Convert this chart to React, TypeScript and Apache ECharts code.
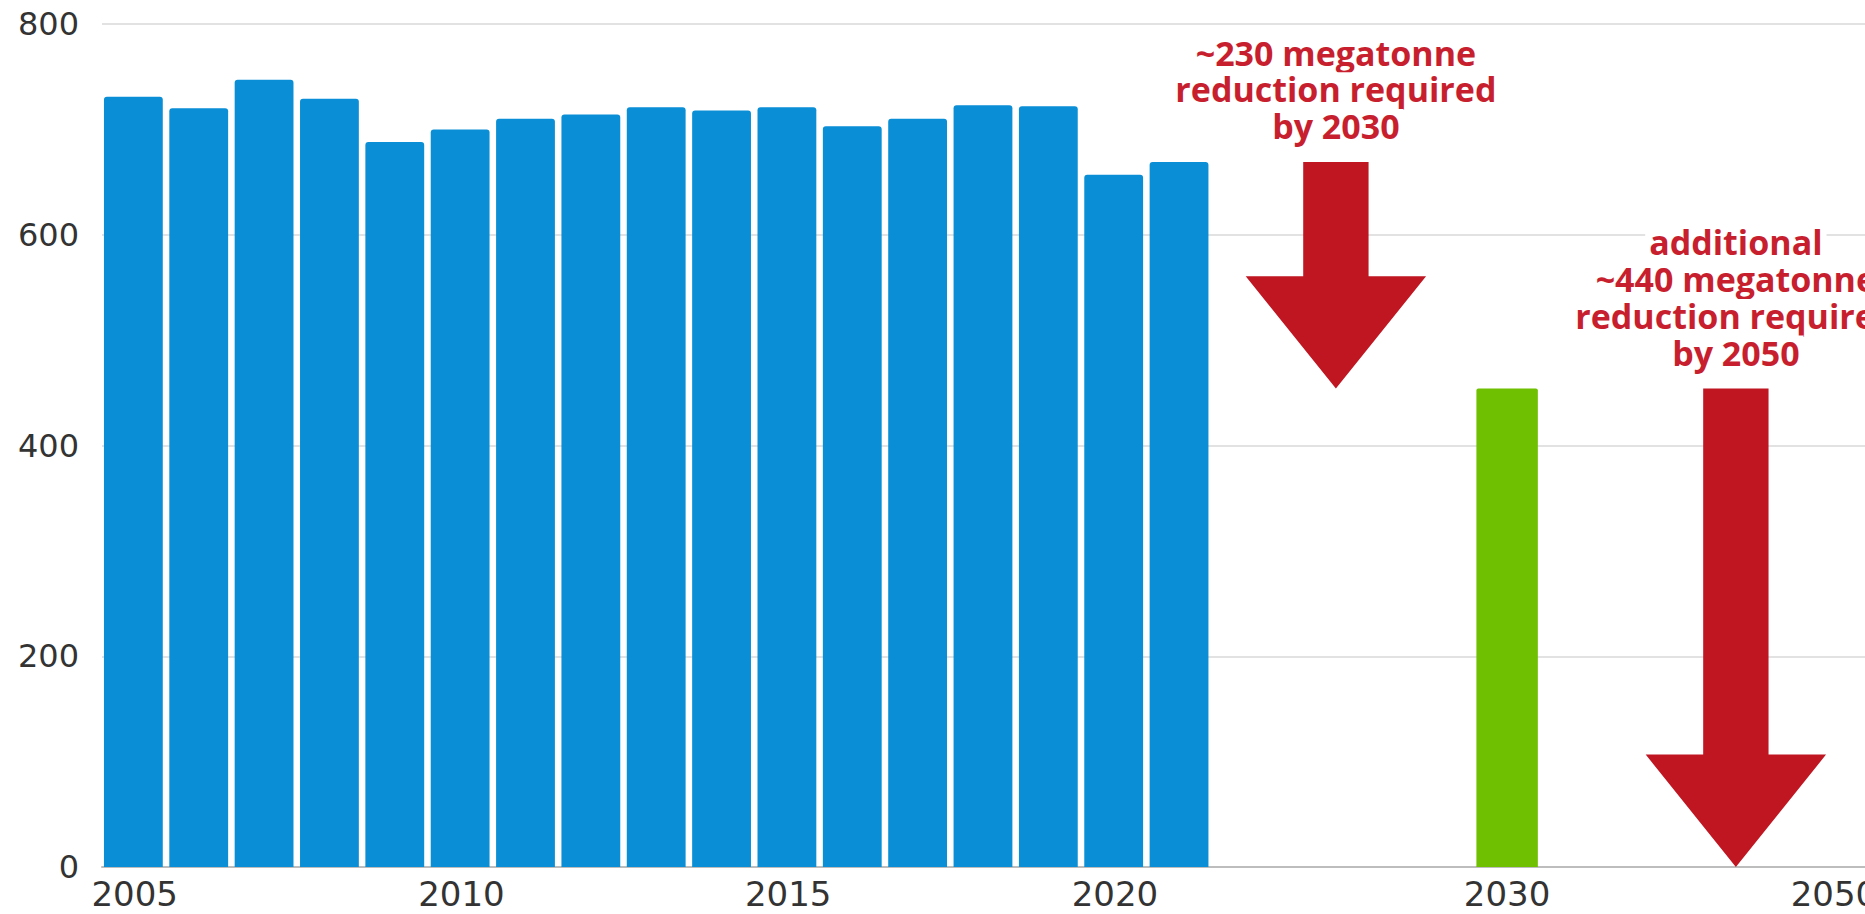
import React, { useEffect, useRef } from 'react';
import * as echarts from 'echarts';

// ---- data ----
const categories = [
  '2005', '2006', '2007', '2008', '2009', '2010', '2011', '2012', '2013',
  '2014', '2015', '2016', '2017', '2018', '2019', '2020', '2021',
  'gap1', 'gap2', 'gap3', 'gap4', '2030', 'gap5', 'gap6', 'gap7', 'gap8', '2050',
];
const tickLabels = ['2005', '2010', '2015', '2020', '2030', '2050'];
const historicValues = [731, 720, 747, 729, 688, 700, 710, 714, 721, 718, 721, 703, 710, 723, 722, 657, 669];
const targetYear = '2030';
const targetValue = 454;
const yTicks = [0, 200, 400, 600, 800];

const arrowCategory = ['gap2', 'gap7'];
const arrowOffset = [0.38, 0.5];
const arrowFrom = [669, 454];
const arrowTo = [454, 0];
const arrowLabels = [
  '~230 megatonne\nreduction required\nby 2030',
  'additional\n~440 megatonne\nreduction required\nby 2050',
];

const BLUE = '#0a8fd6';
const GREEN = '#6fc000';
const ARROW_RED = '#bf1622';
const TEXT_RED = '#c81f2f';

export default function App() {
  const ref = useRef<HTMLDivElement>(null);

  useEffect(() => {
    if (!ref.current) return;
    const chart = echarts.init(ref.current, undefined, { renderer: 'svg' });

    const blueData = categories.map((_, i) => (i < historicValues.length ? historicValues[i] : null));
    const greenData = categories.map((c) => (c === targetYear ? targetValue : null));
    const arrowData = arrowCategory.map((c, i) => [categories.indexOf(c), arrowFrom[i], arrowTo[i], arrowOffset[i]]);

    chart.setOption({
      animation: false,
      backgroundColor: '#ffffff',
      grid: { left: 102, right: 5, top: 24, bottom: 47, containLabel: false },
      xAxis: {
        type: 'category',
        data: categories,
        boundaryGap: true,
        axisTick: { show: false },
        axisLine: { show: true, lineStyle: { color: '#bdbdbd', width: 2 } },
        axisLabel: {
          interval: 0,
          margin: 10,
          color: '#333333',
          fontSize: 34,
          fontFamily: 'DejaVu Sans',
          formatter: (v: string) => (tickLabels.includes(v) ? v : ''),
        },
        splitLine: { show: false },
      },
      yAxis: {
        type: 'value',
        min: yTicks[0],
        max: yTicks[yTicks.length - 1],
        interval: yTicks[1] - yTicks[0],
        axisLine: { show: false },
        axisTick: { show: false },
        axisLabel: {
          margin: 23,
          color: '#333333',
          fontSize: 32,
          fontFamily: 'DejaVu Sans',
        },
        splitLine: { show: true, lineStyle: { color: '#e2e2e2', width: 2 } },
      },
      series: [
        {
          type: 'bar',
          data: blueData,
          barWidth: '90%',
          barGap: '-100%',
          itemStyle: { color: BLUE, borderRadius: [3, 3, 0, 0] },
        },
        {
          type: 'bar',
          data: greenData,
          barWidth: '94%',
          barGap: '-100%',
          itemStyle: { color: GREEN, borderRadius: [2, 2, 0, 0] },
        },
        {
          type: 'custom',
          data: arrowData,
          encode: { x: 0, y: [1, 2] },
          clip: false,
          z: 5,
          renderItem: (params: any, api: any) => {
            const i = params.dataIndex;
            const band = api.size([1, 0])[0];
            const p = api.coord([api.value(0), api.value(1)]);
            const t = api.coord([api.value(0), api.value(2)]);
            const cx = p[0] + api.value(3) * band;
            const top = p[1];
            const yTip = t[1];
            const sh = band * 0.5;
            const hh = band * 1.38;
            const headH = band * 1.72;
            const neck = yTip - headH;
            const children: any[] = [
              {
                type: 'polygon',
                shape: {
                  points: [
                    [cx - sh, top],
                    [cx + sh, top],
                    [cx + sh, neck],
                    [cx + hh, neck],
                    [cx, yTip],
                    [cx - hh, neck],
                    [cx - sh, neck],
                  ],
                },
                style: { fill: ARROW_RED },
              },
            ];
            const lines = arrowLabels[i].split('\n');
            lines.forEach((ln, k) => {
              children.push({
                type: 'text',
                style: {
                  text: ln,
                  x: cx,
                  y: top - 36 - (lines.length - 1 - k) * 36.7,
                  align: 'center',
                  verticalAlign: 'middle',
                  fill: TEXT_RED,
                  fontSize: 34,
                  lineHeight: 34,
                  fontWeight: 'bold',
                  fontFamily: 'Open Sans',
                  backgroundColor: '#ffffff',
                  padding: [0, 4],
                },
              });
            });
            return { type: 'group', children };
          },
        },
      ],
    });

    return () => chart.dispose();
  }, []);

  return (
    <div
      style={{
        position: 'fixed',
        left: 0,
        top: 0,
        width: '1865px',
        height: '914px',
        overflow: 'hidden',
        background: '#fff',
      }}
    >
      <div ref={ref} style={{ width: '1880px', height: '914px' }} />
    </div>
  );
}
